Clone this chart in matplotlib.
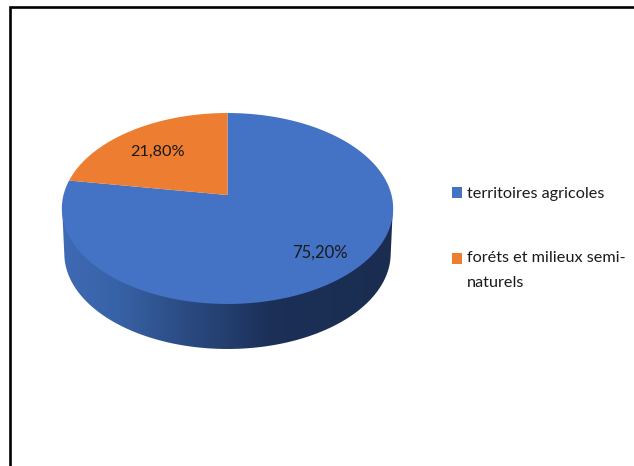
import numpy as np
import matplotlib
matplotlib.use("Agg")
import matplotlib.pyplot as plt
from matplotlib.path import Path
from matplotlib.patches import PathPatch
from matplotlib.colors import LinearSegmentedColormap
from matplotlib.transforms import Transform, Affine2D

categories = ["territoires agricoles", "foréts et milieux semi-\nnaturels"]
values = [75.20, 21.80]
value_labels = ["75,20%", "21,80%"]
colors = ["#4472C4", "#ED7D31"]

plt.rcParams["font.family"] = ["Lato", "DejaVu Sans"]
W, H = 634, 466
fig = plt.figure(figsize=(W / 100, H / 100), dpi=100, facecolor="white")
ax = fig.add_axes([0, 0, 1, 1])


class Tilt(Transform):
    """Perspective view of the pie disc, output in pixel-like axes units."""
    input_dims = output_dims = 2

    def __init__(self, cx, cy, a, c, R):
        super().__init__()
        self.cx, self.cy, self.a, self.c, self.R = cx, cy, a, c, R

    def transform_non_affine(self, xy):
        xy = np.asarray(xy, float)
        d = self.c * xy[:, 1] + 1
        return np.column_stack([self.cx + self.R * xy[:, 0] / d,
                                (self.a * xy[:, 1] + self.cy) / d])

    def transform_path_non_affine(self, path):
        # flatten the wedge's curves finely before warping them
        poly = path.to_polygons(Affine2D().scale(2000), closed_only=True)[0] / 2000
        return Path(self.transform_non_affine(poly), closed=True)


top = Tilt(227.5, 195, -66, 0.1414, 164)

# Extruded side, drawn first
t = np.linspace(np.pi, 2 * np.pi, 181)
front = top.transform_non_affine(np.column_stack([np.cos(t), np.sin(t)]))
depth = 45
narrow = 0.985
lower = np.column_stack([227.5 + (front[:, 0] - 227.5) * narrow, front[:, 1] + depth])
keep = lower[:, 1] >= 255
lower = lower[keep]
side_path = Path(np.vstack([[[62, 205]], lower, [[393, 205]], [[62, 205]]]), closed=True)
grad = np.array([np.linspace(0, 1, 331)])
cmap = LinearSegmentedColormap.from_list(
    "side", [(0, "#3F6AB4"), (0.17, "#3862A6"), (0.36, "#2C4C84"),
             (0.63, "#1C3058"), (1, "#1A2D50")])
im = ax.imshow(grad, extent=[62, 393, 360, 190], cmap=cmap, aspect="auto", zorder=1)
im.set_clip_path(PathPatch(side_path, transform=ax.transData))

# Top of the pie
wedges, _ = ax.pie(values, colors=colors, startangle=90, counterclock=False,
                   normalize=True, radius=1)
for w in wedges:
    w.set_transform(top + ax.transData)
    w.set_zorder(3)
    w.set_clip_on(False)

ax.set_xlim(0, W)
ax.set_ylim(H, 0)
ax.set_aspect("auto")
ax.axis("off")

ax.text(320, 253, value_labels[0], ha="center", va="center", fontsize=12,
        color="#1a1a1a", zorder=5)
ax.text(158, 152, value_labels[1], ha="center", va="center", fontsize=11.8,
        color="#1a1a1a", zorder=5)

# Frame (open on the right and at the bottom)
ax.plot([10.3, 10.3, W], [H, 7.2, 7.2], color="black", lw=1.9, zorder=6,
        solid_joinstyle="miter", clip_on=False)

# Legend
leg = ax.legend(wedges, categories, loc="upper left",
                bbox_to_anchor=(452 / W, 1 - 187 / H), frameon=False,
                fontsize=11.7, labelspacing=3.1, handlelength=0.62,
                handleheight=0.62, handletextpad=0.3, borderpad=0, borderaxespad=0,
                labelcolor="#1a1a1a")
leg.get_texts()[1].set_linespacing(1.95)
# The second swatch sits beside the first line of its two-line label
swatch = leg.legend_handles[1]
swatch.set_y(swatch.get_y() + 8.6)

fig.savefig("out.png", dpi=100, facecolor="white")
